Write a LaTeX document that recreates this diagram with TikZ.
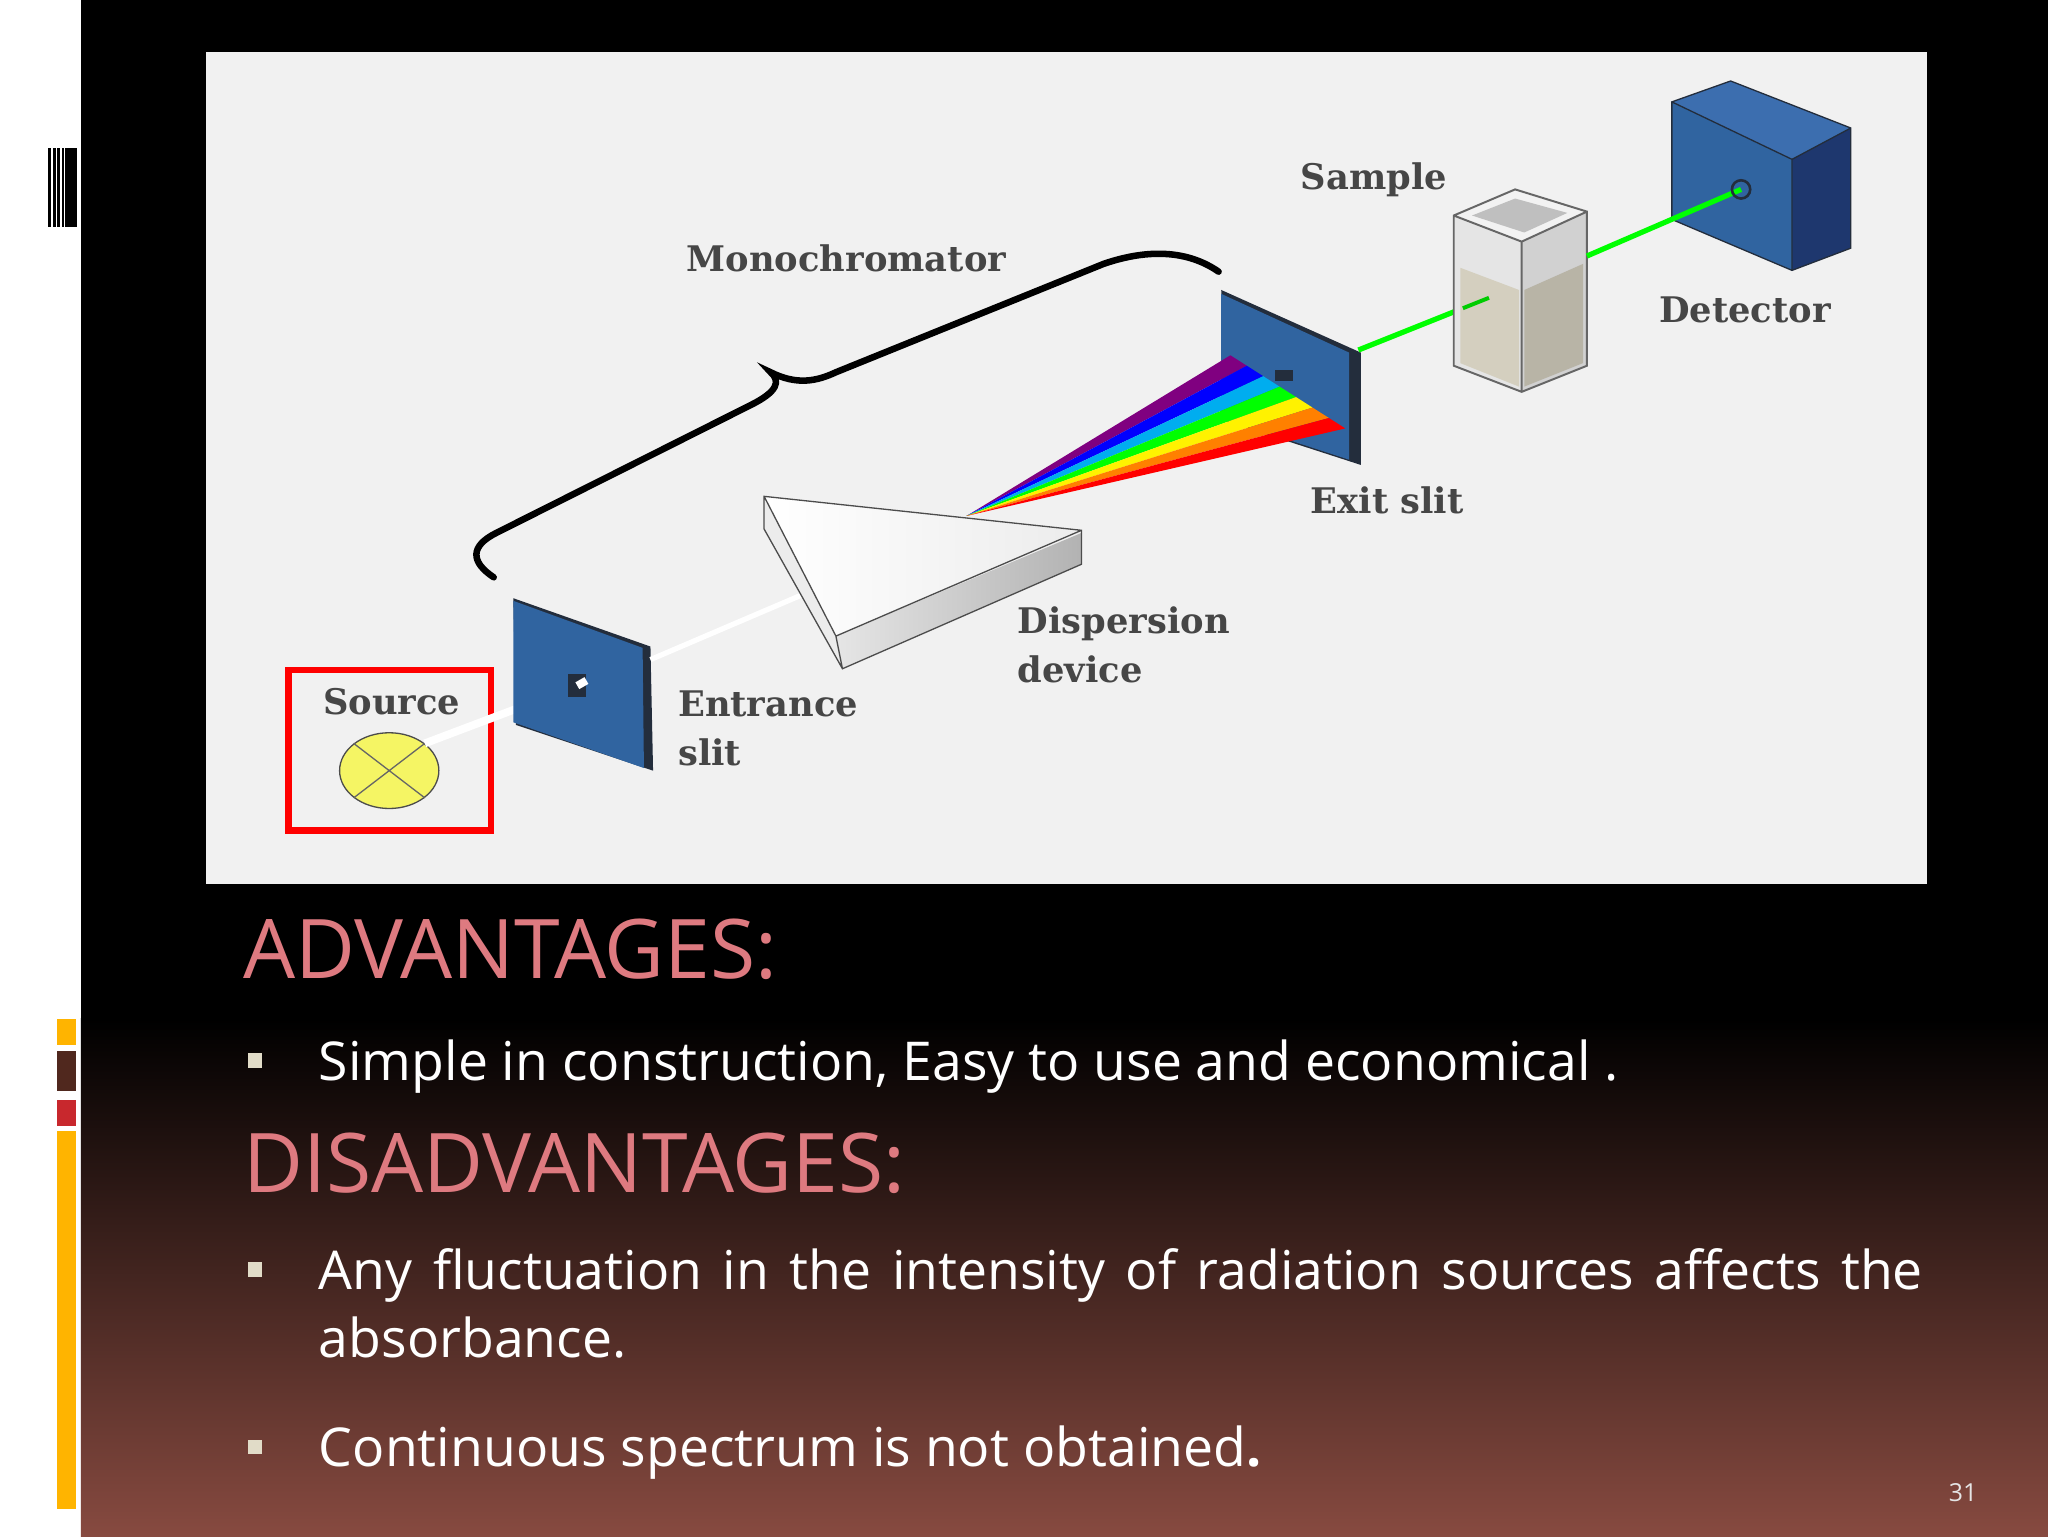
\documentclass[tikz,border=0pt]{standalone}
\usepackage{fontspec}
\setmainfont{DejaVu Serif}
\newfontfamily\slidefont{Open Sans}
\usetikzlibrary{shapes.geometric,calc}
\definecolor{panel}{RGB}{241,241,241}
\definecolor{plate}{RGB}{48,100,160}
\definecolor{platedk}{RGB}{35,45,60}
\definecolor{headc}{RGB}{222,122,128}
\definecolor{bulletc}{RGB}{225,220,200}
\definecolor{bottomc}{RGB}{135,74,64}
\definecolor{labc}{RGB}{70,70,70}
\definecolor{liquid}{RGB}{205,198,175}
\definecolor{barY}{RGB}{255,180,0}
\definecolor{barB}{RGB}{80,40,30}
\definecolor{barR}{RGB}{200,40,45}
\definecolor{bulbc}{RGB}{245,245,100}
\definecolor{detside}{RGB}{30,55,110}
\definecolor{dettop}{RGB}{60,110,175}
\tikzset{
  lab/.style={font=\fontsize{27}{30}\selectfont\bfseries, text=labc, inner sep=0pt, align=left},
  head/.style={font=\slidefont\fontsize{63}{66}\selectfont, text=headc, anchor=base west, inner sep=0pt},
  body/.style={font=\slidefont\fontsize{41}{48}\selectfont, text=white, anchor=base west, inner sep=0pt},
  bul/.style={fill=bulletc, minimum size=11pt, inner sep=0pt},
}
\begin{document}
\begin{tikzpicture}[x=1pt,y=-1pt]
\useasboundingbox (0,0) rectangle (1568,1176);
% background
\fill[white] (0,0) rectangle (62,1176);
\fill[black] (62,0) rectangle (1568,781);
\shade[top color=black, bottom color=bottomc] (62,780) rectangle (1568,1176);
% left decorations
\fill[black] (37,113) rectangle (59,174);
\foreach \x/\w in {39/1.5,42.5/1.5,46/1.5,49/1} \fill[white] (\x,113) rectangle ++(\w,61);
\fill[white] (59,113) rectangle (62,174);
\fill[barY] (44,780) rectangle (58,800);
\fill[barB] (44,805) rectangle (58,835);
\fill[barR] (44,842) rectangle (58,862);
\fill[barY] (44,866) rectangle (58,1155);
% panel
\fill[panel] (158,40) rectangle (1475,677);
% source
\draw[red, line width=5pt] (221,513) rectangle (376,636);
\node[lab] (srcl) at (300,537) {Source};
\node[ellipse, draw=black!70, fill=bulbc, minimum width=76pt, minimum height=58pt, inner sep=0pt, line width=1pt] (bulb) at (298,590) {};
\draw[black!60, line width=1pt] (bulb.north west) -- (bulb.south east) (bulb.south west) -- (bulb.north east);
% beam source->slit->prism
\coordinate (enhole) at (442,525);
\draw[white, line width=6pt] (bulb.north east) -- (enhole);
% entrance slit plate
\fill[platedk] (393,458) -- (498,495) -- (500,590) -- (395,555) -- cycle;
\fill[plate] (393,460) -- (492,496) -- (493,588) -- (393,553) -- cycle;
\fill[platedk] (435,516) rectangle (449,534);
\draw[white, line width=6pt] (enhole) -- (449,521);
\coordinate (prin) at (615,455);
\draw[white, line width=4pt] (498,505) -- (prin);
% prism
\fill[white!85!gray] (585,380) -- (640,487) -- (645,512) -- (585,405) -- cycle;
\shade[left color=white!80!gray, right color=gray!60] (640,487) -- (828,408) -- (828,432) -- (645,512) -- cycle;
\shade[left color=white, right color=white!85!gray] (585,380) -- (828,406) -- (640,487) -- cycle;
\draw[black!70, line width=1pt] (585,380) -- (828,406) -- (828,432) -- (645,512) -- (585,405) -- cycle (585,380) -- (640,487) -- (828,406) (640,487) -- (645,512);
% exit slit plate
\fill[platedk] (935,222) -- (1042,270) -- (1042,356) -- (937,322) -- cycle;
\fill[plate] (935,225) -- (1033,270) -- (1033,352) -- (935,320) -- cycle;
% rainbow
\coordinate (apex) at (740,395);
\foreach \i/\c in {0/violet,1/blue,2/cyan,3/green,4/yellow,5/orange,6/red}{
  \fill[\c] (apex) -- ($(942,272)!{\i/7}!(1030,328)$) -- ($(942,272)!{(\i+1)/7}!(1030,328)$) -- cycle;
}
\fill[platedk] (976,283) rectangle (990,292);
% cuvette
\coordinate (cuin) at (1140,228);
\coordinate (cuout) at (1215,196);
\draw[green, line width=4pt] (1040,268) -- (cuin);
\fill[black!10] (1113,165) -- (1165,185) -- (1165,300) -- (1113,280) -- cycle;
\fill[black!18] (1165,185) -- (1215,162) -- (1215,280) -- (1165,300) -- cycle;
\fill[liquid, opacity=0.7] (1118,205) -- (1163,222) -- (1163,296) -- (1118,278) -- cycle;
\fill[liquid!85!black, opacity=0.7] (1167,222) -- (1212,202) -- (1212,278) -- (1167,296) -- cycle;
\fill[white!90!gray] (1113,165) -- (1160,145) -- (1215,162) -- (1165,185) -- cycle;
\fill[black!25] (1127,165) -- (1160,152) -- (1200,163) -- (1167,178) -- cycle;
\draw[black!60, line width=1.5pt] (1113,165) -- (1160,145) -- (1215,162) -- (1215,280) -- (1165,300) -- (1113,280) -- cycle (1113,165) -- (1165,185) -- (1215,162) (1165,185) -- (1165,300);
\draw[green!80!black, line width=3pt] (1120,236) -- (cuin);
% detector
\coordinate (dethole) at (1333,145);
\fill[detside] (1372,122) -- (1417,98) -- (1417,190) -- (1372,207) -- cycle;
\fill[dettop] (1280,78) -- (1325,62) -- (1417,98) -- (1372,122) -- cycle;
\fill[plate] (1280,78) -- (1372,122) -- (1372,207) -- (1280,168) -- cycle;
\draw[platedk, line width=1pt] (1280,78) -- (1325,62) -- (1417,98) -- (1417,190) -- (1372,207) -- (1280,168) -- cycle (1280,78) -- (1372,122) -- (1417,98) (1372,122) -- (1372,207);
\draw[green, line width=4pt] (cuout) -- (dethole);
\draw[platedk, line width=2pt] (dethole) circle (7);
% brace
\draw[black, line width=5pt, line cap=round] (378,442) .. controls (360,430) and (360,418) .. (380,408)
  -- (575,310) .. controls (595,300) and (598,292) .. (590,285)
  .. controls (610,295) and (625,292) .. (640,285)
  -- (845,202) .. controls (880,190) and (910,192) .. (933,208);
% labels
\node[lab] (mono) at (648,198) {Monochromator};
\node[lab] (samp) at (1052,138) {Sample};
\node[lab] (det) at (1336,237) {Detector};
\node[lab] (exit) at (1062,383) {Exit slit};
\node[lab, anchor=north west, font=\fontsize{27}{38}\selectfont\bfseries] (disp) at (779,464) {Dispersion\\device};
\node[lab, anchor=north west, font=\fontsize{27}{37}\selectfont\bfseries] (ent) at (519,529) {Entrance\\slit};
% slide text
\node[head] (adv) at (186,749) {ADVANTAGES:};
\node[bul] (b1) at (195,812) {};
\node[body] (t1) at (244,827) {Simple in construction, Easy to use and economical .};
\node[head] (dis) at (186,913) {DISADVANTAGES:};
\node[bul] (b2) at (195,972) {};
\node[body] (t2) at (244,987) {\makebox[1228pt][s]{Any fluctuation in the intensity of radiation sources affects the}};
\node[body] (t3) at (244,1039) {absorbance.};
\node[bul] (b3) at (195,1108) {};
\node[body] (t4) at (244,1123) {Continuous spectrum is not obtained\textbf{.}};
\node[font=\slidefont\fontsize{19}{20}\selectfont, text=white!80!gray] (pg) at (1503,1143) {31};
\end{tikzpicture}
\end{document}
